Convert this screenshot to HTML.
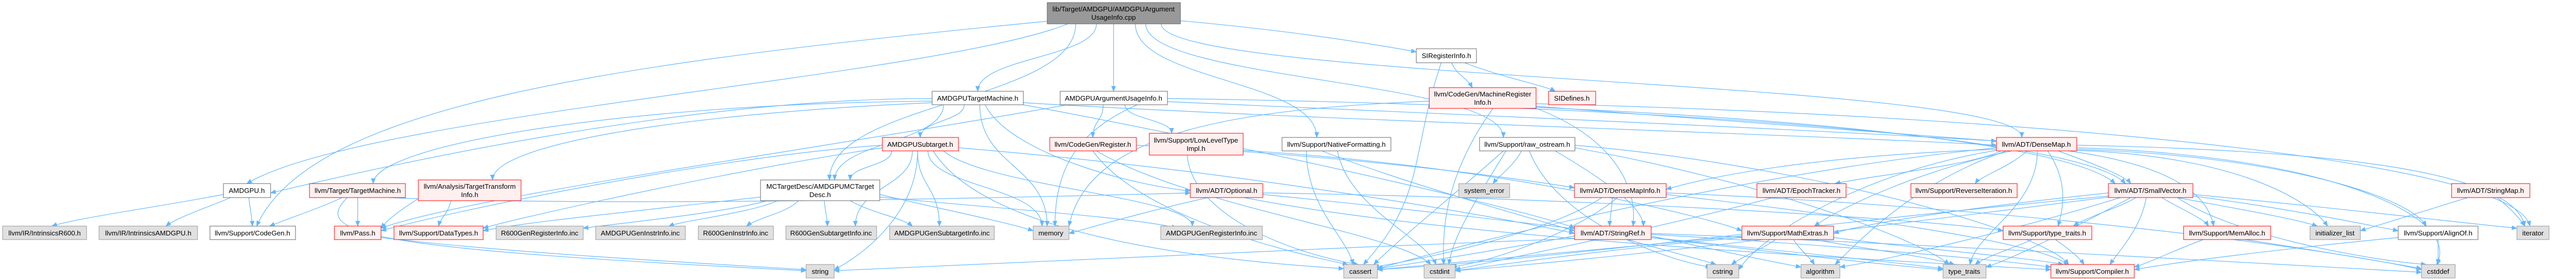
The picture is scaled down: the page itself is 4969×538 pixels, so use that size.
<!DOCTYPE html>
<html><head><meta charset="utf-8"><style>
html,body{margin:0;padding:0;background:#fff;}
svg{display:block;}
text{font-family:"Liberation Sans",Arial,sans-serif;font-size:13.3px;fill:#000;text-anchor:middle;}
.e{fill:none;stroke:#63b8ff;stroke-width:1.2;}
.w{fill:#fff;stroke:#666;stroke-width:1;}
.r{fill:#fff0f0;stroke:#ff0000;stroke-width:1;}
.g{fill:#e0e0e0;stroke:#999;stroke-width:1;}
.m{fill:#999;stroke:#666;stroke-width:1;}
</style></head><body>
<svg width="4969" height="538" viewBox="0 0 4969 538" xmlns="http://www.w3.org/2000/svg">
<defs><marker id="a" markerUnits="userSpaceOnUse" markerWidth="11" markerHeight="9" refX="10" refY="4.5" orient="auto"><path d="M0,0 L11,4.5 L0,9 z" fill="#63b8ff"/></marker></defs>
<g class="e" marker-end="url(#a)">
<path d="M2060,46 C1800,150 700,220 476,354"/>
<path d="M2115,46 C2115,111 1886,111 1886,176"/>
<path d="M2148,46 L2148,176"/>
<path d="M2075,46 C2075,196 1600,196 1600,347"/>
<path d="M2277,40 C2500,60 2650,85 2732,100"/>
<path d="M2190,46 C2190,155 2540,155 2540,265"/>
<path d="M2210,46 C2210,155 2900,155 2900,265"/>
<path d="M2240,46 C2240,155 3900,155 3900,265"/>
<path d="M2030,40 C1200,120 600,200 495,436"/>
<path d="M1860,202 C1860,233 1775,233 1775,265"/>
<path d="M1890,202 C1890,320 2020,320 2020,436"/>
<path d="M1900,202 C1950,300 2200,360 2296,368"/>
<path d="M1798,195 C1200,200 720,280 720,354"/>
<path d="M1798,198 C1300,220 950,280 950,347"/>
<path d="M1798,190 C1300,190 700,330 522,372"/>
<path d="M1820,202 C1820,275 1610,275 1610,347"/>
<path d="M1974,198 C2500,230 3500,260 3851,280"/>
<path d="M1974,202 C2500,300 3000,420 3037,440"/>
<path d="M2128,202 C2128,233 2108,233 2108,265"/>
<path d="M2170,202 C2170,230 2260,230 2260,257"/>
<path d="M2252,180 C2100,230 2035,300 2035,436"/>
<path d="M2060,202 C1500,300 900,380 735,440"/>
<path d="M2252,196 C2800,220 3500,250 3851,272"/>
<path d="M2252,190 C3000,200 4000,250 4100,354"/>
<path d="M1720,291 C1720,320 1640,320 1640,347"/>
<path d="M1770,291 C1770,360 1812,360 1812,436"/>
<path d="M1790,291 C1790,360 2010,360 2010,436"/>
<path d="M1820,291 C1900,360 2300,380 2300,436"/>
<path d="M1760,291 C1760,360 1650,360 1650,436"/>
<path d="M1702,280 C1400,300 900,400 735,445"/>
<path d="M1702,285 C1400,330 1000,420 932,440"/>
<path d="M1770,291 C1770,420 1650,500 1609,520"/>
<path d="M1849,285 C2400,330 2900,420 3037,450"/>
<path d="M1800,291 C1900,450 2300,500 2592,518"/>
<path d="M1467,380 C1200,410 1000,430 932,445"/>
<path d="M1480,387 C1400,410 1200,430 1125,440"/>
<path d="M1500,387 C1450,410 1320,425 1290,436"/>
<path d="M1540,387 C1520,410 1460,420 1440,436"/>
<path d="M1590,387 C1592,410 1596,420 1596,436"/>
<path d="M1640,387 C1680,410 1740,420 1760,436"/>
<path d="M1697,375 C1800,400 1950,430 1993,445"/>
<path d="M1697,380 C1900,400 2200,420 2270,440"/>
<path d="M660,381 C620,400 560,420 520,436"/>
<path d="M690,381 L690,436"/>
<path d="M670,381 C600,450 700,480 1555,522"/>
<path d="M750,381 C1200,400 2000,380 2296,372"/>
<path d="M870,387 C865,410 850,420 846,436"/>
<path d="M810,381 C780,400 750,420 735,440"/>
<path d="M431,375 C300,400 150,420 100,436"/>
<path d="M445,381 C400,400 340,420 320,436"/>
<path d="M480,381 C482,400 486,420 487,436"/>
<path d="M735,458 C1000,490 1400,510 1555,520"/>
<path d="M2108,291 C2200,420 2500,490 2600,510"/>
<path d="M2115,291 C2300,400 2700,450 2760,510"/>
<path d="M2192,280 C2600,300 2900,340 3037,362"/>
<path d="M2290,299 C2300,420 2500,490 2620,510"/>
<path d="M2398,290 C2900,320 3300,420 3360,445"/>
<path d="M2330,381 C2200,410 2100,440 2062,450"/>
<path d="M2400,381 C2800,460 3600,500 3956,520"/>
<path d="M2436,375 C2900,420 3500,500 3748,520"/>
<path d="M2436,372 C3000,380 3700,420 3864,445"/>
<path d="M2800,121 C2810,145 2830,150 2840,169"/>
<path d="M2825,121 C2900,150 2980,165 3000,176"/>
<path d="M2780,121 C2720,300 2750,380 2630,510"/>
<path d="M2963,205 C3400,240 3700,260 3851,272"/>
<path d="M2963,207 C3500,230 4000,280 4080,354"/>
<path d="M2880,209 C2800,320 2780,420 2785,510"/>
<path d="M2963,200 C3800,220 4850,300 4880,436"/>
<path d="M2757,195 C2400,210 2100,250 2062,436"/>
<path d="M2963,209 C3100,260 3160,350 3150,436"/>
<path d="M2580,291 C2600,400 2750,460 2770,510"/>
<path d="M2520,291 C2520,400 2600,460 2610,510"/>
<path d="M2550,291 C2700,350 2950,420 3037,445"/>
<path d="M2935,291 C2920,320 2890,340 2880,354"/>
<path d="M2900,291 C2800,380 2700,460 2650,510"/>
<path d="M2905,291 C2850,380 2800,460 2795,510"/>
<path d="M2950,291 C3000,420 3200,500 3300,515"/>
<path d="M3000,291 C3100,350 3170,400 3170,436"/>
<path d="M3038,285 C3400,350 3700,460 3760,510"/>
<path d="M3038,280 C3500,320 3950,450 3990,510"/>
<path d="M3110,381 C3110,400 3105,420 3105,436"/>
<path d="M3090,381 C3000,440 2800,490 2650,515"/>
<path d="M3120,381 C3050,440 2900,500 2800,515"/>
<path d="M3214,375 C3600,420 3950,470 3990,512"/>
<path d="M3214,372 C3900,400 4500,480 4671,520"/>
<path d="M3860,291 C3800,320 3600,340 3540,354"/>
<path d="M3910,291 C3880,320 3820,340 3810,354"/>
<path d="M3970,291 C4050,320 4100,340 4110,354"/>
<path d="M3880,291 C3700,330 3550,400 3500,436"/>
<path d="M3950,291 C3990,350 3980,400 3970,436"/>
<path d="M3930,291 C3930,400 3810,450 3800,510"/>
<path d="M3870,291 C3700,350 3600,450 3540,510"/>
<path d="M3851,285 C3400,330 2900,450 2657,518"/>
<path d="M4006,285 C4500,300 4750,420 4700,510"/>
<path d="M4006,280 C4500,290 4850,330 4870,436"/>
<path d="M4006,290 C4300,300 4450,380 4490,436"/>
<path d="M4006,288 C4400,300 4650,380 4680,436"/>
<path d="M3990,291 C4200,320 4260,380 4270,436"/>
<path d="M3851,288 C3500,300 3300,340 3214,365"/>
<path d="M3851,290 C3600,330 3400,450 3354,520"/>
<path d="M3420,381 C3200,440 2900,500 2807,520"/>
<path d="M4067,372 C3800,400 3600,430 3537,450"/>
<path d="M4120,381 C4090,400 4020,420 4000,436"/>
<path d="M4140,381 C4130,440 4090,480 4070,510"/>
<path d="M4170,381 C4200,400 4250,420 4260,436"/>
<path d="M4200,381 C4300,400 4420,420 4470,436"/>
<path d="M4230,378 C4400,400 4550,430 4626,445"/>
<path d="M4230,375 C4500,400 4750,430 4855,440"/>
<path d="M4200,381 C4300,450 4550,500 4680,510"/>
<path d="M4090,381 C3900,440 3650,500 3549,515"/>
<path d="M4067,378 C3500,430 3000,500 2657,520"/>
<path d="M4110,381 C4000,440 3880,500 3831,515"/>
<path d="M4067,380 C3600,440 3100,500 2807,522"/>
<path d="M4760,381 C4700,400 4600,430 4553,445"/>
<path d="M4817,381 C4840,400 4860,420 4870,436"/>
<path d="M3037,455 C2900,480 2750,505 2657,518"/>
<path d="M3140,462 C3200,480 3280,500 3310,510"/>
<path d="M3185,455 C3300,480 3420,505 3474,515"/>
<path d="M3185,458 C3400,480 3650,505 3748,518"/>
<path d="M3185,452 C3500,470 3850,500 3956,515"/>
<path d="M3185,450 C3700,470 4400,510 4671,525"/>
<path d="M3037,460 C2500,480 1800,515 1609,522"/>
<path d="M3425,462 C3400,480 3360,495 3340,510"/>
<path d="M3460,462 C3470,480 3490,495 3500,510"/>
<path d="M3500,462 C3600,480 3720,495 3770,510"/>
<path d="M3537,458 C3700,480 3900,495 3980,510"/>
<path d="M3360,455 C3100,480 2800,505 2657,520"/>
<path d="M3360,458 C3100,480 2900,510 2807,522"/>
<path d="M3920,462 C3880,480 3830,495 3810,510"/>
<path d="M3965,462 C3990,480 4010,495 4020,510"/>
<path d="M4250,462 C4200,480 4150,505 4117,515"/>
<path d="M4330,462 C4450,480 4600,505 4671,518"/>
<path d="M4703,462 L4703,510"/>
<path d="M4626,458 C4400,480 4200,505 4117,520"/>
</g>
<!-- nodes -->
<rect class="m" x="2020" y="5" width="257" height="41"/><text x="2148" y="22">lib/Target/AMDGPU/AMDGPUArgument</text><text x="2148" y="38">UsageInfo.cpp</text>
<rect class="w" x="2732" y="94" width="116" height="27"/><text x="2790" y="112">SIRegisterInfo.h</text>
<rect class="w" x="1798" y="176" width="176" height="26"/><text x="1886" y="194">AMDGPUTargetMachine.h</text>
<rect class="w" x="2045" y="176" width="207" height="26"/><text x="2148" y="194">AMDGPUArgumentUsageInfo.h</text>
<rect class="r" x="2757" y="169" width="206" height="40"/><text x="2860" y="186">llvm/CodeGen/MachineRegister</text><text x="2860" y="202">Info.h</text>
<rect class="r" x="2987" y="176" width="91" height="26"/><text x="3032" y="194">SIDefines.h</text>
<rect class="r" x="1702" y="265" width="147" height="26"/><text x="1775" y="283">AMDGPUSubtarget.h</text>
<rect class="r" x="2025" y="265" width="167" height="26"/><text x="2108" y="283">llvm/CodeGen/Register.h</text>
<rect class="r" x="2217" y="257" width="181" height="42"/><text x="2307" y="275">llvm/Support/LowLevelType</text><text x="2307" y="291">Impl.h</text>
<rect class="w" x="2473" y="265" width="210" height="26"/><text x="2578" y="283">llvm/Support/NativeFormatting.h</text>
<rect class="w" x="2854" y="265" width="184" height="26"/><text x="2946" y="283">llvm/Support/raw_ostream.h</text>
<rect class="r" x="3851" y="265" width="155" height="26"/><text x="3928" y="283">llvm/ADT/DenseMap.h</text>
<rect class="w" x="431" y="354" width="91" height="27"/><text x="476" y="372">AMDGPU.h</text>
<rect class="r" x="597" y="354" width="185" height="27"/><text x="690" y="372">llvm/Target/TargetMachine.h</text>
<rect class="r" x="807" y="347" width="198" height="40"/><text x="906" y="364">llvm/Analysis/TargetTransform</text><text x="906" y="380">Info.h</text>
<rect class="w" x="1467" y="347" width="230" height="40"/><text x="1582" y="364">MCTargetDesc/AMDGPUMCTarget</text><text x="1582" y="380">Desc.h</text>
<rect class="r" x="2296" y="354" width="140" height="27"/><text x="2366" y="372">llvm/ADT/Optional.h</text>
<rect class="g" x="2814" y="354" width="98" height="27"/><text x="2863" y="372">system_error</text>
<rect class="r" x="3037" y="354" width="177" height="27"/><text x="3125" y="372">llvm/ADT/DenseMapInfo.h</text>
<rect class="r" x="3389" y="354" width="172" height="27"/><text x="3475" y="372">llvm/ADT/EpochTracker.h</text>
<rect class="r" x="3686" y="354" width="205" height="27"/><text x="3788" y="372">llvm/Support/ReverseIteration.h</text>
<rect class="r" x="4067" y="354" width="163" height="27"/><text x="4148" y="372">llvm/ADT/SmallVector.h</text>
<rect class="r" x="4729" y="354" width="151" height="27"/><text x="4804" y="372">llvm/ADT/StringMap.h</text>
<rect class="g" x="5" y="436" width="162" height="26"/><text x="86" y="454">llvm/IR/IntrinsicsR600.h</text>
<rect class="g" x="191" y="436" width="190" height="26"/><text x="286" y="454">llvm/IR/IntrinsicsAMDGPU.h</text>
<rect class="w" x="405" y="436" width="165" height="26"/><text x="487" y="454">llvm/Support/CodeGen.h</text>
<rect class="r" x="645" y="436" width="90" height="26"/><text x="690" y="454">llvm/Pass.h</text>
<rect class="r" x="760" y="436" width="172" height="26"/><text x="846" y="454">llvm/Support/DataTypes.h</text>
<rect class="g" x="957" y="436" width="168" height="26"/><text x="1041" y="454">R600GenRegisterInfo.inc</text>
<rect class="g" x="1149" y="436" width="173" height="26"/><text x="1235" y="454">AMDGPUGenInstrInfo.inc</text>
<rect class="g" x="1347" y="436" width="145" height="26"/><text x="1419" y="454">R600GenInstrInfo.inc</text>
<rect class="g" x="1516" y="436" width="175" height="26"/><text x="1603" y="454">R600GenSubtargetInfo.inc</text>
<rect class="g" x="1716" y="436" width="202" height="26"/><text x="1817" y="454">AMDGPUGenSubtargetInfo.inc</text>
<rect class="g" x="1993" y="436" width="69" height="26"/><text x="2027" y="454">memory</text>
<rect class="g" x="2239" y="436" width="196" height="26"/><text x="2337" y="454">AMDGPUGenRegisterInfo.inc</text>
<rect class="r" x="3037" y="436" width="148" height="26"/><text x="3111" y="454">llvm/ADT/StringRef.h</text>
<rect class="r" x="3360" y="436" width="177" height="26"/><text x="3448" y="454">llvm/Support/MathExtras.h</text>
<rect class="r" x="3864" y="436" width="171" height="26"/><text x="3949" y="454">llvm/Support/type_traits.h</text>
<rect class="r" x="4212" y="436" width="168" height="26"/><text x="4296" y="454">llvm/Support/MemAlloc.h</text>
<rect class="g" x="4456" y="436" width="97" height="26"/><text x="4504" y="454">initializer_list</text>
<rect class="w" x="4626" y="436" width="154" height="26"/><text x="4703" y="454">llvm/Support/AlignOf.h</text>
<rect class="g" x="4855" y="436" width="62" height="26"/><text x="4886" y="454">iterator</text>
<rect class="g" x="1555" y="510" width="54" height="26"/><text x="1582" y="528">string</text>
<rect class="g" x="2592" y="510" width="65" height="26"/><text x="2624" y="528">cassert</text>
<rect class="g" x="2747" y="510" width="60" height="26"/><text x="2777" y="528">cstdint</text>
<rect class="g" x="3293" y="510" width="61" height="26"/><text x="3323" y="528">cstring</text>
<rect class="g" x="3474" y="510" width="75" height="26"/><text x="3511" y="528">algorithm</text>
<rect class="g" x="3748" y="510" width="83" height="26"/><text x="3789" y="528">type_traits</text>
<rect class="r" x="3956" y="510" width="161" height="26"/><text x="4036" y="528">llvm/Support/Compiler.h</text>
<rect class="g" x="4671" y="510" width="65" height="26"/><text x="4703" y="528">cstddef</text>
</svg>
</body></html>
